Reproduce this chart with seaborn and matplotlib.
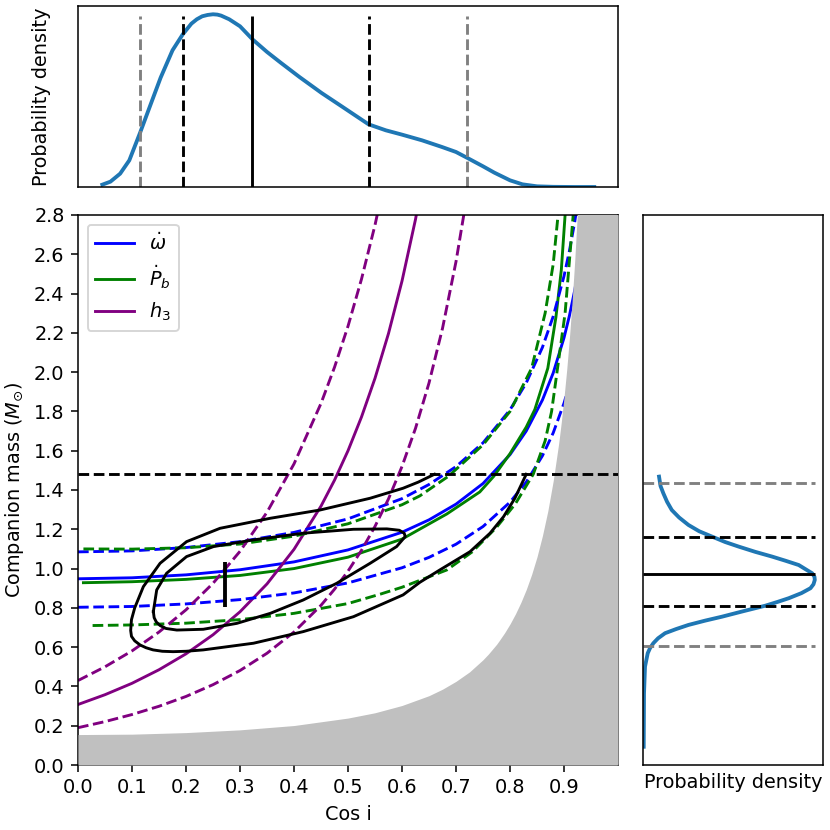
import numpy as np
import matplotlib
matplotlib.use("Agg")
import matplotlib.pyplot as plt
import seaborn as sns
from matplotlib.ticker import FormatStrFormatter

# --- data ---
# omega-dot constraint (cos i, companion mass)
omdot_x = [0.0, 0.1, 0.2, 0.3, 0.4, 0.5, 0.6, 0.65, 0.7, 0.75, 0.8, 0.83, 0.86, 0.88, 0.9, 0.91, 0.92, 0.93]
omdot_hi = [1.085, 1.090, 1.107, 1.137, 1.184, 1.253, 1.356, 1.428, 1.519, 1.640, 1.808, 1.945, 2.126, 2.284, 2.489, 2.617, 2.768, 2.952]
omdot_mid = [0.948, 0.953, 0.968, 0.994, 1.034, 1.095, 1.185, 1.248, 1.328, 1.433, 1.580, 1.700, 1.858, 1.996, 2.175, 2.287, 2.419, 2.579]
omdot_lo = [0.803, 0.807, 0.820, 0.842, 0.876, 0.927, 1.004, 1.057, 1.124, 1.214, 1.338, 1.440, 1.574, 1.691, 1.842, 1.937, 2.049, 2.185]

# Pb-dot constraint
pbdot_mid_x = [0.01, 0.1, 0.2, 0.3, 0.4, 0.5, 0.6, 0.683, 0.744, 0.77, 0.8, 0.83, 0.846, 0.87, 0.885, 0.895, 0.902]
pbdot_mid_y = [0.928, 0.933, 0.945, 0.965, 1.0, 1.058, 1.150, 1.278, 1.39, 1.47, 1.585, 1.72, 1.81, 2.02, 2.28, 2.52, 2.8]
pbdot_hi_x = [0.01, 0.1, 0.2, 0.3, 0.4, 0.5, 0.6, 0.633, 0.686, 0.75, 0.8, 0.84, 0.865, 0.88, 0.889]
pbdot_hi_y = [1.100, 1.099, 1.106, 1.125, 1.165, 1.228, 1.325, 1.37, 1.47, 1.63, 1.80, 2.02, 2.3, 2.55, 2.8]
pbdot_lo_x = [0.027, 0.1, 0.2, 0.3, 0.4, 0.5, 0.56, 0.6, 0.683, 0.73, 0.775, 0.81, 0.843, 0.865, 0.877, 0.902, 0.917]
pbdot_lo_y = [0.710, 0.713, 0.722, 0.740, 0.772, 0.822, 0.870, 0.905, 0.993, 1.085, 1.21, 1.33, 1.48, 1.65, 1.80, 2.30, 2.8]

# h3 constraint
h3_x = [0.0, 0.05, 0.1, 0.15, 0.2, 0.25, 0.3, 0.35, 0.4, 0.45, 0.475, 0.5, 0.525, 0.55, 0.575, 0.6, 0.625, 0.65, 0.675, 0.7, 0.72]
h3_hi = [0.430, 0.500, 0.581, 0.677, 0.790, 0.925, 1.088, 1.287, 1.533, 1.841, 2.025, 2.234, 2.474, 2.749, 3.068, None, None, None, None, None, None]
h3_mid = [0.308, 0.358, 0.416, 0.485, 0.566, 0.663, 0.780, 0.922, 1.098, 1.318, 1.450, 1.600, 1.772, 1.969, 2.197, 2.464, 2.778, 3.153, None, None, None]
h3_lo = [0.190, 0.221, 0.257, 0.299, 0.349, 0.409, 0.481, 0.569, 0.677, 0.813, 0.895, 0.987, 1.093, 1.215, 1.355, 1.520, 1.714, 1.945, 2.223, 2.563, 2.893]

# mass-function excluded region
excl_x = [0.0, 0.1, 0.2, 0.3, 0.4, 0.5, 0.55, 0.6, 0.65, 0.675, 0.7, 0.725, 0.75, 0.76, 0.775, 0.78, 0.79, 0.8, 0.81,
          0.82, 0.83, 0.84, 0.85, 0.86, 0.87, 0.88, 0.89, 0.895, 0.9, 0.905, 0.91, 0.915, 0.92, 0.925, 1.0]
excl_y = [0.155, 0.157, 0.165, 0.179, 0.201, 0.239, 0.266, 0.303, 0.353, 0.386, 0.426, 0.474, 0.536, 0.565, 0.614, 0.633,
          0.673, 0.718, 0.769, 0.827, 0.893, 0.970, 1.060, 1.167, 1.293, 1.447, 1.635, 1.746, 1.872, 2.013, 2.175,
          2.360, 2.575, 2.825, 3.0]

# confidence contours (inner closed, outer cut at the mass limit)
c1_x = [0.1395, 0.1457, 0.164, 0.201, 0.251, 0.325, 0.417, 0.51, 0.572, 0.595, 0.604, 0.606, 0.590, 0.541, 0.479, 0.417,
        0.356, 0.294, 0.232, 0.183, 0.163, 0.152, 0.145, 0.141, 0.1395]
c1_y = [0.781, 0.891, 0.976, 1.061, 1.112, 1.146, 1.180, 1.200, 1.202, 1.195, 1.180, 1.163, 1.112, 1.027, 0.925, 0.840,
        0.772, 0.721, 0.691, 0.687, 0.695, 0.710, 0.728, 0.750, 0.781]
c2_x = [0.66, 0.63, 0.602, 0.541, 0.448, 0.356, 0.263, 0.201, 0.152, 0.121, 0.105, 0.099, 0.0975, 0.099, 0.105, 0.115,
        0.126, 0.139, 0.156, 0.176, 0.2, 0.232, 0.325, 0.417, 0.51, 0.602, 0.633, 0.670, 0.726, 0.763, 0.788, 0.809, 0.830]
c2_y = [1.48, 1.44, 1.409, 1.358, 1.298, 1.256, 1.205, 1.137, 1.027, 0.908, 0.80, 0.74, 0.685, 0.655, 0.632, 0.611,
        0.597, 0.586, 0.579, 0.577, 0.579, 0.586, 0.620, 0.679, 0.755, 0.866, 0.93, 0.993, 1.086, 1.18, 1.264, 1.358, 1.48]

best_cosi = 0.273
best_mc_range = [0.805, 1.035]
mass_limit = 1.48

# marginal of cos i
pdf_cosi_x = [0.045, 0.06, 0.078, 0.095, 0.115, 0.135, 0.153, 0.175, 0.194, 0.21, 0.22, 0.23, 0.24, 0.25, 0.258, 0.265,
              0.28, 0.3, 0.323, 0.35, 0.376, 0.41, 0.451, 0.49, 0.538, 0.57, 0.6, 0.637, 0.674, 0.7, 0.72, 0.75, 0.771,
              0.8, 0.823, 0.85, 0.88, 0.92, 0.956]
pdf_cosi_y = [7, 16, 40, 80, 163, 250, 328, 410, 458, 490, 503, 512, 516, 518, 517, 514,
              503, 482, 443, 405, 372, 330, 282, 240, 188, 170, 157, 140, 120, 105, 88, 62, 43,
              20, 8, 2, 0.5, 0, 0]
cosi_lines = [0.115, 0.194, 0.323, 0.538, 0.72]

# marginal of companion mass
pdf_mc_y = [1.468, 1.42, 1.383, 1.34, 1.298, 1.26, 1.222, 1.19, 1.163, 1.135, 1.112, 1.085, 1.061, 1.04, 1.018, 0.997,
            0.976, 0.958, 0.942, 0.92, 0.900, 0.875, 0.849, 0.83, 0.811, 0.783, 0.755, 0.735, 0.713, 0.692, 0.671,
            0.645, 0.620, 0.595, 0.569, 0.501, 0.365, 0.093]
pdf_mc_x = [16, 17.5, 20.3, 24, 28.7, 36, 45.3, 56, 68.7, 82, 95.3, 112, 128.7, 142, 155.3, 162,
            168.7, 171, 171.3, 170, 167, 158, 145.3, 134, 122, 100, 78.7, 62, 45.3, 33, 22,
            15, 10.3, 7, 4.7, 2, 1, 0.7]
mc_lines = [0.606, 0.811, 0.971, 1.163, 1.437]

line_colors = ['gray', 'black', 'black', 'black', 'gray']
line_styles = ['--', '--', '-', '--', '--']

# --- figure ---
fig = plt.figure(figsize=(6, 6), dpi=830 / 6)
ax = fig.add_axes([0.094, 0.0783, 0.6506, 0.6627])
ax_top = fig.add_axes([0.094, 0.7747, 0.6506, 0.2185])
ax_right = fig.add_axes([0.7747, 0.0783, 0.2169, 0.6627])

kw = dict(estimator=None, sort=False, lw=1.5)

def curve(xs, ys, **extra):
    pts = [(a, b) for a, b in zip(xs, ys) if b is not None]
    sns.lineplot(x=[p[0] for p in pts], y=[p[1] for p in pts], ax=ax, **kw, **extra)

curve(omdot_x, omdot_mid, color='blue', label=r'$\dot{\omega}$')
curve(pbdot_mid_x, pbdot_mid_y, color='green', label=r'$\dot{P}_b$')
curve(h3_x, h3_mid, color='purple', label=r'$h_3$')
curve(omdot_x, omdot_hi, color='blue', linestyle='--')
curve(omdot_x, omdot_lo, color='blue', linestyle='--')
curve(pbdot_hi_x, pbdot_hi_y, color='green', linestyle='--')
curve(pbdot_lo_x, pbdot_lo_y, color='green', linestyle='--')
curve(h3_x, h3_hi, color='purple', linestyle='--')
curve(h3_x, h3_lo, color='purple', linestyle='--')
curve(c1_x, c1_y, color='black')
curve(c2_x, c2_y, color='black')

ax.fill_between(excl_x, 0, excl_y, color='silver', lw=0, zorder=3)
ax.axhline(mass_limit, color='black', linestyle='--', lw=1.5, zorder=4)
ax.vlines(best_cosi, best_mc_range[0], best_mc_range[1], color='black', lw=2, zorder=4)

ax.set_xlim(0, 1)
ax.set_ylim(0, 2.8)
ax.set_xticks(np.round(np.arange(0, 0.95, 0.1), 1))
ax.set_yticks(np.round(np.arange(0, 2.85, 0.2), 1))
ax.xaxis.set_major_formatter(FormatStrFormatter('%.1f'))
ax.yaxis.set_major_formatter(FormatStrFormatter('%.1f'))
ax.set_xlabel('Cos i')
ax.set_ylabel(r'Companion mass ($M_{\odot}$)')
ax.legend(loc='upper left')

# top marginal
sns.lineplot(x=pdf_cosi_x, y=pdf_cosi_y, ax=ax_top, color='#1f77b4', estimator=None, sort=False, lw=2)
peak = max(pdf_cosi_y)
for xv, c, ls in zip(cosi_lines, line_colors, line_styles):
    ax_top.vlines(xv, 0, peak * 0.99, color=c, linestyle=ls, lw=1.5)
ax_top.set_xlim(0, 1)
ax_top.set_ylim(0, peak * 1.05)
ax_top.set_xticks([])
ax_top.set_yticks([])
ax_top.set_xlabel('')
ax_top.set_ylabel('Probability density', labelpad=14)

# right marginal
sns.lineplot(x=pdf_mc_x, y=pdf_mc_y, ax=ax_right, color='#1f77b4', estimator=None, sort=False, lw=2, orient='y')
peak_r = max(pdf_mc_x)
for yv, c, ls in zip(mc_lines, line_colors, line_styles):
    ax_right.hlines(yv, 0, peak_r, color=c, linestyle=ls, lw=1.5)
ax_right.set_xlim(0, peak_r * 1.048)
ax_right.set_ylim(0, 2.8)
ax_right.set_xticks([])
ax_right.set_yticks([])
ax_right.set_ylabel('')
ax_right.set_xlabel('Probability density')

fig.savefig('out.png', dpi=830 / 6)
